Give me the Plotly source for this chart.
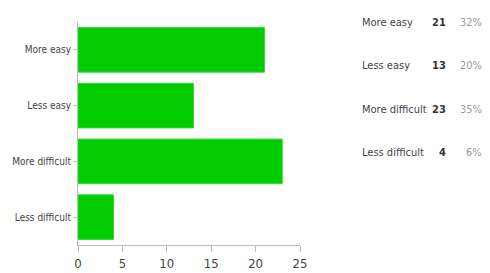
import plotly.graph_objects as go

categories = ["More easy", "Less easy", "More difficult", "Less difficult"]
counts = [21, 13, 23, 4]
percents = ["32%", "20%", "35%", "6%"]
x_ticks = [0, 5, 10, 15, 20, 25]

FONT = "DejaVu Sans Condensed"

fig = go.Figure(go.Bar(
    y=categories, x=counts, orientation="h",
    marker=dict(color="#00cc00", line=dict(color="#33dd33", width=1)),
    width=0.8,
))

# page has an 8px body margin; figure sized to fit the window
OFF = 8
W, H = 490 - OFF, 273 - OFF
L, T = 78 - OFF, 22 - OFF
B = H - (245 - OFF)
R = W - L - 222
plot_w = W - L - R
plot_h = H - T - B

def px(x):
    return (x - OFF - L) / plot_w

def py(y):
    return (H - B - (y - OFF)) / plot_h

row_y = [22, 65, 109, 153]
for cat, n, p, ry in zip(categories, counts, percents, row_y):
    yp = py(ry)
    fig.add_annotation(x=px(360), y=yp, xref="paper", yref="paper",
                       text=cat, showarrow=False, xanchor="left", yanchor="middle",
                       font=dict(family=FONT, size=11, color="#444444"))
    fig.add_annotation(x=px(448), y=yp, xref="paper", yref="paper",
                       text="<b>%d</b>" % n, showarrow=False, xanchor="right", yanchor="middle",
                       font=dict(family=FONT, size=11, color="#333333"))
    fig.add_annotation(x=px(484), y=yp, xref="paper", yref="paper",
                       text=p, showarrow=False, xanchor="right", yanchor="middle",
                       font=dict(family=FONT, size=11, color="#9a9a9a"))

fig.update_layout(
    width=W, height=H,
    margin=dict(l=L, r=R, t=T, b=B, pad=0, autoexpand=False),
    paper_bgcolor="white", plot_bgcolor="white",
    showlegend=False,
    font=dict(family=FONT, size=11, color="#444444"),
    xaxis=dict(range=[0, 25], tickvals=x_ticks, showgrid=False, zeroline=False,
               showline=True, linecolor="#bbbbbb", linewidth=1,
               ticks="outside", ticklen=6, tickcolor="#bbbbbb", automargin=False,
               tickfont=dict(family=FONT, size=13, color="#444444")),
    yaxis=dict(categoryorder="array", categoryarray=categories[::-1],
               range=[-0.5, 3.5], showgrid=False, zeroline=False, automargin=False,
               showline=True, linecolor="#bbbbbb", linewidth=1,
               ticks="outside", ticklen=4, tickcolor="#bbbbbb",
               tickfont=dict(family=FONT, size=10, color="#444444")),
)

fig.write_html("out.html")
